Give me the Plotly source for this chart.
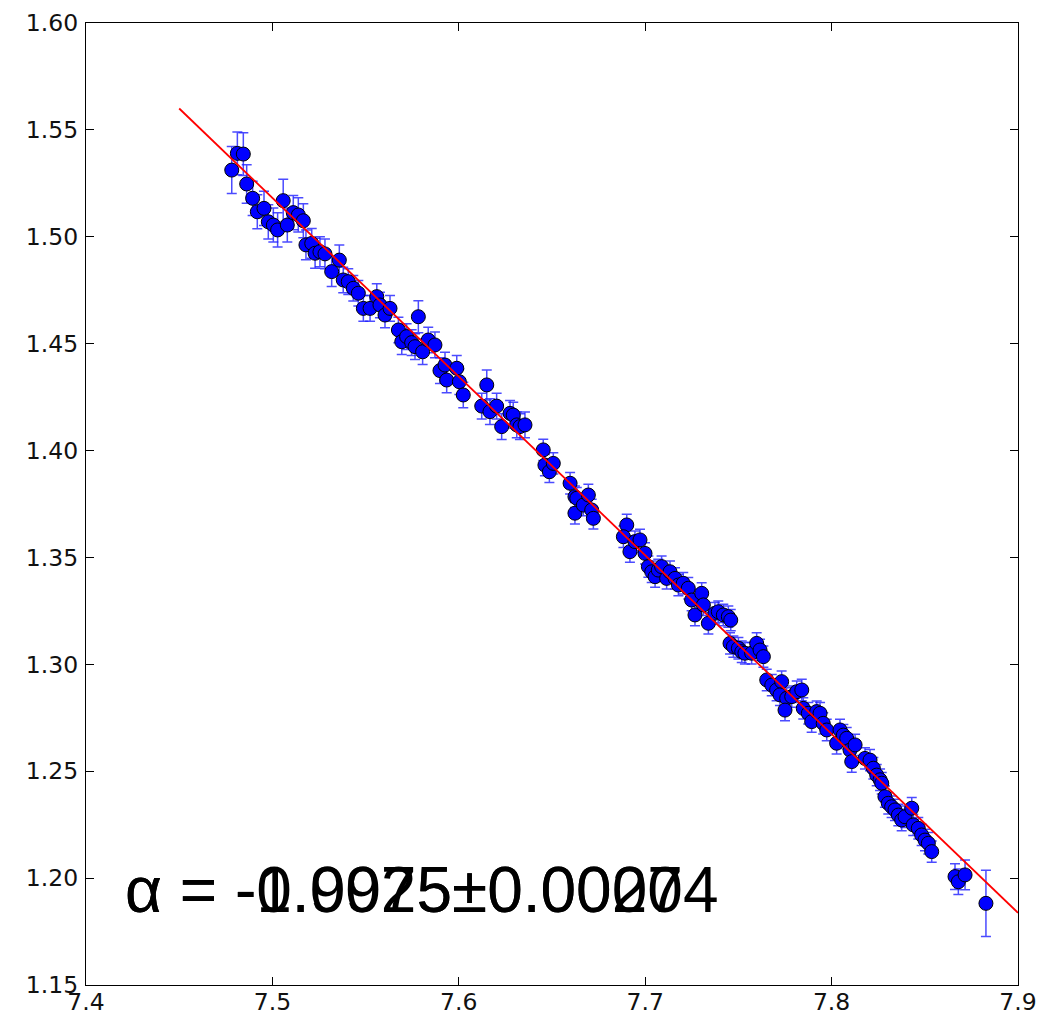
import plotly.graph_objects as go

# ---- data ----
X_VALS = [
    7.4782, 7.4812, 7.4844, 7.4862, 7.4894, 7.4919, 7.4955, 7.4978, 7.5005, 7.5028,
    7.5058, 7.5080, 7.5112, 7.5139, 7.5166, 7.5180, 7.5211, 7.5229, 7.5255, 7.5282,
    7.5318, 7.5359, 7.5380, 7.5407, 7.5434, 7.5461, 7.5488, 7.5524, 7.5560, 7.5577,
    7.5604, 7.5631, 7.5676, 7.5694, 7.5720, 7.5747, 7.5765, 7.5783, 7.5806, 7.5836,
    7.5872, 7.5899, 7.5926, 7.5935, 7.5989, 7.6003, 7.6024, 7.6123, 7.6150, 7.6167,
    7.6203, 7.6230, 7.6275, 7.6292, 7.6311, 7.6328, 7.6355, 7.6453, 7.6462, 7.6486,
    7.6507, 7.6597, 7.6623, 7.6633, 7.6623, 7.6668, 7.6695, 7.6713, 7.6722, 7.6901,
    7.6883, 7.6918, 7.6945, 7.6972, 7.6999, 7.7017, 7.7035, 7.7053, 7.7070, 7.7088,
    7.7115, 7.7133, 7.7160, 7.7178, 7.7204, 7.7231, 7.7249, 7.7267, 7.7303, 7.7312,
    7.7339, 7.7374, 7.7392, 7.7419, 7.7446, 7.7459, 7.7455, 7.7473, 7.7500, 7.7518,
    7.7535, 7.7571, 7.7598, 7.7616, 7.7634, 7.7652, 7.7679, 7.7705, 7.7732, 7.7723,
    7.7759, 7.7750, 7.7786, 7.7813, 7.7840, 7.7848, 7.7875, 7.7893, 7.7920, 7.7938,
    7.7955, 7.7974, 7.8027, 7.8045, 7.8063, 7.8081, 7.8099, 7.8108, 7.8126, 7.8179,
    7.8206, 7.8224, 7.8242, 7.8260, 7.8269, 7.8286, 7.8304, 7.8322, 7.8340, 7.8358,
    7.8376, 7.8394, 7.8430, 7.8438, 7.8465, 7.8483, 7.8501, 7.8519, 7.8537, 7.8662,
    7.8680, 7.8716, 7.8828,
]
Y_VALS = [
    1.5312, 1.5390, 1.5387, 1.5247, 1.5180, 1.5117, 1.5133, 1.5070, 1.5055, 1.5032,
    1.5169, 1.5055, 1.5113, 1.5102, 1.5075, 1.4962, 1.4969, 1.4923, 1.4930, 1.4920,
    1.4837, 1.4891, 1.4798, 1.4790, 1.4759, 1.4736, 1.4665, 1.4665, 1.4720, 1.4681,
    1.4634, 1.4665, 1.4564, 1.4509, 1.4533, 1.4505, 1.4486, 1.4626, 1.4462, 1.4517,
    1.4494, 1.4374, 1.4400, 1.4330, 1.4385, 1.4322, 1.4260, 1.4208, 1.4307, 1.4182,
    1.4208, 1.4112, 1.4174, 1.4166, 1.4120, 1.4112, 1.4120, 1.4003, 1.3932, 1.3901,
    1.3940, 1.3847, 1.3784, 1.3777, 1.3707, 1.3745, 1.3792, 1.3722, 1.3683, 1.3652,
    1.3597, 1.3527, 1.3574, 1.3582, 1.3519, 1.3457, 1.3433, 1.3410, 1.3441, 1.3457,
    1.3402, 1.3433, 1.3402, 1.3371, 1.3379, 1.3356, 1.3301, 1.3231, 1.3332, 1.3278,
    1.3192, 1.3239, 1.3246, 1.3231, 1.3223, 1.3207, 1.3098, 1.3083, 1.3075, 1.3059,
    1.3052, 1.3052, 1.3098, 1.3067, 1.3036, 1.2927, 1.2903, 1.2880, 1.2919, 1.2857,
    1.2841, 1.2786, 1.2849, 1.2872, 1.2880, 1.2794, 1.2771, 1.2732, 1.2779, 1.2771,
    1.2724, 1.2693, 1.2631, 1.2693, 1.2669, 1.2654, 1.2599, 1.2545, 1.2623, 1.2560,
    1.2552, 1.2514, 1.2482, 1.2460, 1.2444, 1.2381, 1.2350, 1.2334, 1.2319, 1.2295,
    1.2272, 1.2287, 1.2327, 1.2249, 1.2233, 1.2202, 1.2178, 1.2163, 1.2124, 1.2007,
    1.1983, 1.2015, 1.1882,
]
Y_ERR = [
    0.011, 0.010, 0.010, 0.009, 0.008, 0.008, 0.008, 0.008, 0.008, 0.008,
    0.010, 0.008, 0.008, 0.008, 0.008, 0.007, 0.007, 0.007, 0.007, 0.007,
    0.007, 0.007, 0.006, 0.006, 0.006, 0.006, 0.006, 0.006, 0.006, 0.006,
    0.006, 0.006, 0.006, 0.006, 0.006, 0.006, 0.006, 0.0075, 0.006, 0.006,
    0.006, 0.006, 0.006, 0.006, 0.006, 0.006, 0.006, 0.006, 0.007, 0.006,
    0.006, 0.006, 0.006, 0.006, 0.006, 0.006, 0.006, 0.005, 0.005, 0.005,
    0.005, 0.005, 0.005, 0.005, 0.005, 0.005, 0.005, 0.005, 0.005, 0.005,
    0.005, 0.005, 0.005, 0.005, 0.005, 0.005, 0.005, 0.005, 0.005, 0.005,
    0.005, 0.005, 0.005, 0.005, 0.005, 0.005, 0.005, 0.005, 0.005, 0.005,
    0.005, 0.005, 0.005, 0.005, 0.005, 0.005, 0.005, 0.005, 0.005, 0.005,
    0.005, 0.005, 0.005, 0.005, 0.005, 0.005, 0.005, 0.005, 0.005, 0.005,
    0.005, 0.005, 0.005, 0.005, 0.005, 0.005, 0.005, 0.005, 0.005, 0.005,
    0.005, 0.005, 0.005, 0.005, 0.005, 0.005, 0.005, 0.005, 0.005, 0.005,
    0.005, 0.005, 0.005, 0.005, 0.005, 0.005, 0.005, 0.005, 0.005, 0.005,
    0.005, 0.005, 0.005, 0.005, 0.005, 0.005, 0.005, 0.005, 0.005, 0.006,
    0.006, 0.007, 0.0155,
]

# fitted line (start x, end x, value at start, slope)
FIT_X = [7.45, 7.90]
FIT_Y0 = 1.56
FIT_SLOPE = -0.836

X_TICKS = [7.4, 7.5, 7.6, 7.7, 7.8, 7.9]
X_TICK_TEXT = ["7.4", "7.5", "7.6", "7.7", "7.8", "7.9"]
Y_TICKS = [1.15, 1.20, 1.25, 1.30, 1.35, 1.40, 1.45, 1.50, 1.55, 1.60]
Y_TICK_TEXT = ["1.15", "1.20", "1.25", "1.30", "1.35", "1.40", "1.45", "1.50", "1.55", "1.60"]

LABELS = ["α = -0.9975±0.00204", "α = -1.0025±0.0007"]
LABEL_X = 7.420
LABEL_Y = 1.1945

fit_y = [FIT_Y0 + FIT_SLOPE * (x - FIT_X[0]) for x in FIT_X]

fig = go.Figure()
fig.add_trace(go.Scatter(
    x=X_VALS, y=Y_VALS, mode="markers",
    marker=dict(size=14, color="#0000ff", line=dict(color="black", width=1)),
    error_y=dict(type="data", array=Y_ERR, visible=True,
                 color="rgba(30,30,255,0.8)", thickness=1.5, width=5),
    showlegend=False,
))
fig.add_trace(go.Scatter(
    x=FIT_X, y=fit_y, mode="lines",
    line=dict(color="red", width=1.8), showlegend=False,
))

for s in LABELS:
    fig.add_annotation(
        x=LABEL_X, y=LABEL_Y, xref="x", yref="y", text=s, showarrow=False,
        xanchor="left", yanchor="middle",
        font=dict(family="Liberation Sans, Arial, sans-serif", size=64, color="black"),
    )

axis_common = dict(
    showgrid=False, zeroline=False, showline=True, linecolor="black", linewidth=1.3,
    mirror="allticks", ticks="inside", ticklen=8, tickwidth=1, tickcolor="black",
    tickfont=dict(family="DejaVu Sans", size=23.5, color="#111"),
    automargin=False,
)
fig.update_xaxes(range=[7.4, 7.9], tickvals=X_TICKS, ticktext=X_TICK_TEXT,
                 ticklabelstandoff=-4, **axis_common)
fig.update_yaxes(range=[1.15, 1.60], tickvals=Y_TICKS, ticktext=Y_TICK_TEXT,
                 ticklabelstandoff=2, **axis_common)

fig.update_layout(
    width=1037, height=1013,
    margin=dict(l=86, r=19, t=23, b=28),
    paper_bgcolor="white", plot_bgcolor="white",
)

fig.write_html("out.html")
